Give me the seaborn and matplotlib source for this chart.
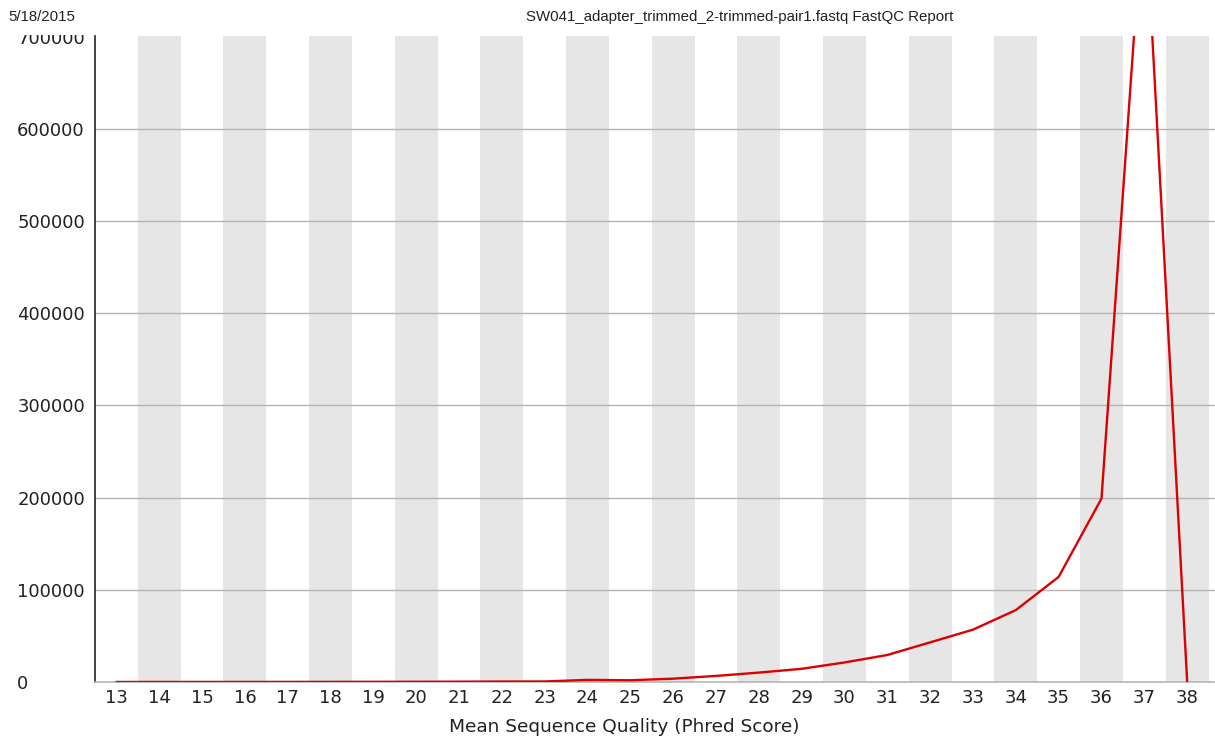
import matplotlib
matplotlib.use("Agg")
import matplotlib.pyplot as plt
from matplotlib.transforms import Bbox
import seaborn as sns
import pandas as pd

# Per-sequence quality score distribution
quality = [13, 14, 15, 16, 17, 18, 19, 20, 21, 22, 23, 24, 25, 26,
           27, 28, 29, 30, 31, 32, 33, 34, 35, 36, 37, 38]
counts = [40, 55, 70, 90, 120, 160, 210, 280, 380, 520, 600, 2300, 1900, 3600,
          6600, 10200, 14300, 21200, 29300, 43000, 56800, 78000, 114000, 199000,
          860000, 300]
y_ticks = [0, 100000, 200000, 300000, 400000, 500000, 600000, 700000]

report_date = "5/18/2015"
report_title = "SW041_adapter_trimmed_2-trimmed-pair1.fastq FastQC Report"
x_label = "Mean Sequence Quality (Phred Score)"

df = pd.DataFrame({"quality": quality, "count": counts})

sns.set_style("white")
plt.rcParams["font.family"] = ["DejaVu Sans"]

W, H = 1215, 748
fig = plt.figure(figsize=(W / 100, H / 100), dpi=100)
ax = fig.add_axes([95 / W, 66 / H, 1120 / W, 646 / H])

# alternating shaded columns on even scores
for q in quality:
    if q % 2 == 0:
        ax.axvspan(q - 0.5, q + 0.5, color=(230 / 255, 230 / 255, 230 / 255),
                   lw=0, zorder=0)

# horizontal guide lines (the top one sits on the cut edge)
for yv in y_ticks[1:-1]:
    ax.axhline(yv, color=(180 / 255, 180 / 255, 180 / 255), lw=1.0, zorder=1)

sns.lineplot(data=df, x="quality", y="count", ax=ax,
             color=(220 / 255, 0, 0), lw=1.7, zorder=3)

ax.set_xlim(12.5, 38.65)
ax.set_ylim(0, 700600)
ax.set_xticks(quality)
ax.set_xticklabels([str(q) for q in quality])
ax.set_yticks(y_ticks)
ax.set_yticklabels([str(v) for v in y_ticks])
ax.set_xlabel("")
ax.set_ylabel("")

for side in ["top", "right"]:
    ax.spines[side].set_visible(False)
ax.spines["left"].set_color("#202020")
ax.spines["left"].set_linewidth(1.2)
ax.spines["bottom"].set_color((180 / 255, 180 / 255, 180 / 255))
ax.spines["bottom"].set_linewidth(1.2)

ax.tick_params(axis="both", length=0, labelsize=13, colors="#222222")
ax.tick_params(axis="x", pad=5)
ax.tick_params(axis="y", pad=56)
clip = Bbox([[0, 0], [95, H - 35]])
for lab in ax.get_yticklabels():
    lab.set_horizontalalignment("left")
    lab.set_clip_on(True)
    lab.set_clip_box(clip)

fig.text(624 / W, 1 - 727 / H, x_label, ha="center", va="center",
         fontsize=13.3, color="#222222")
fig.text(8 / W, 1 - 17 / H, report_date, ha="left", va="center",
         fontsize=10.8, family="Liberation Sans", color="#222222")
fig.text(740 / W, 1 - 17 / H, report_title, ha="center", va="center",
         fontsize=10.8, family="Liberation Sans", color="#222222")

fig.savefig("out.png", dpi=100)
